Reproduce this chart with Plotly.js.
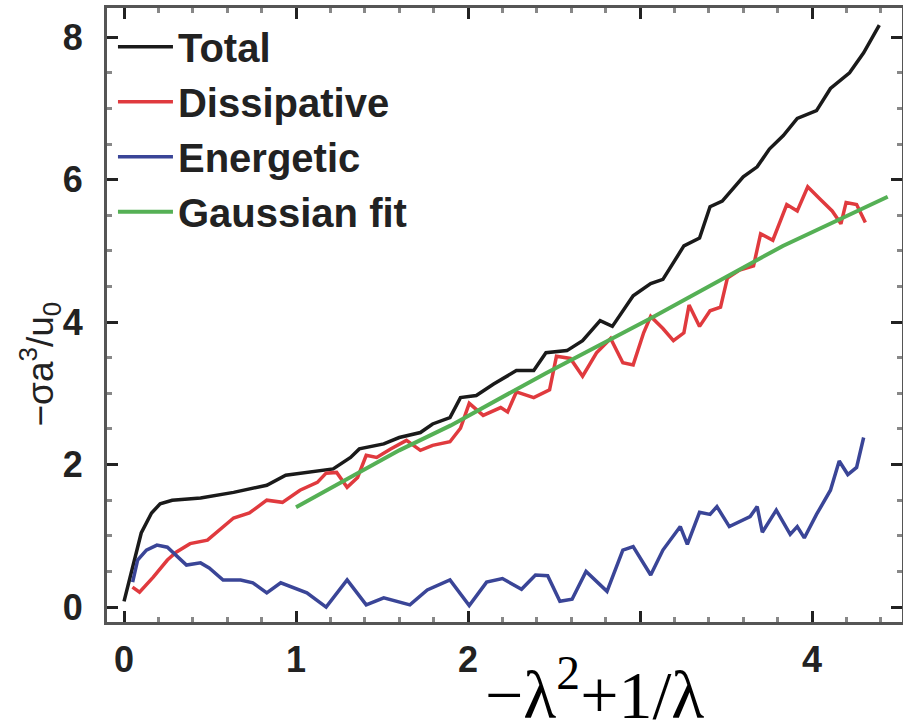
<!DOCTYPE html>
<html>
<head>
<meta charset="utf-8">
<script src="https://cdn.plot.ly/plotly-3.0.1.min.js"></script>
<style>html,body{margin:0;padding:0;background:#fff;}#chart{width:903px;height:723px;}</style>
</head>
<body>
<div id="chart"></div>
<script>
// Total
const totalX = [0.0,0.052,0.10,0.16,0.21,0.28,0.445,0.637,0.83,0.94,1.063,1.216,1.317,1.368,1.51,1.60,1.723,1.794,1.895,1.956,2.048,2.149,2.281,2.382,2.453,2.575,2.666,2.768,2.839,2.96,3.062,3.133,3.255,3.346,3.407,3.478,3.6,3.681,3.752,3.833,3.914,4.026,4.107,4.218,4.30,4.35,4.391];
const totalY = [0.08,0.56,1.04,1.32,1.45,1.5,1.53,1.61,1.71,1.85,1.89,1.94,2.1,2.22,2.29,2.38,2.45,2.57,2.66,2.94,2.97,3.13,3.32,3.32,3.57,3.6,3.74,4.02,3.94,4.37,4.54,4.6,5.07,5.18,5.62,5.7,6.04,6.18,6.43,6.62,6.86,6.97,7.28,7.5,7.78,8.0,8.17];
// Dissipative
const dissX = [0.049,0.09,0.17,0.252,0.303,0.384,0.485,0.536,0.637,0.729,0.83,0.921,1.023,1.124,1.175,1.236,1.297,1.358,1.408,1.469,1.55,1.642,1.723,1.794,1.895,1.956,2.007,2.088,2.19,2.23,2.281,2.382,2.474,2.514,2.595,2.666,2.747,2.829,2.9,2.96,3.021,3.062,3.133,3.194,3.255,3.285,3.346,3.407,3.468,3.508,3.579,3.66,3.701,3.772,3.853,3.914,3.975,4.046,4.117,4.168,4.198,4.259,4.31];
const dissY = [0.28,0.21,0.42,0.66,0.77,0.89,0.94,1.04,1.25,1.32,1.5,1.47,1.64,1.75,1.88,1.89,1.68,1.82,2.13,2.1,2.22,2.34,2.2,2.27,2.32,2.51,2.86,2.69,2.8,2.74,3.02,2.94,3.05,3.52,3.49,3.24,3.57,3.77,3.43,3.4,3.85,4.08,3.91,3.74,3.85,4.24,3.94,4.16,4.21,4.62,4.73,4.79,5.24,5.15,5.65,5.56,5.9,5.73,5.56,5.38,5.68,5.65,5.4];
// Energetic
const enerX = [0.05,0.079,0.13,0.191,0.252,0.303,0.363,0.445,0.495,0.576,0.678,0.749,0.83,0.911,0.982,1.063,1.175,1.297,1.408,1.51,1.662,1.763,1.895,2.007,2.108,2.2,2.311,2.392,2.463,2.534,2.605,2.686,2.808,2.9,2.96,3.062,3.133,3.234,3.275,3.346,3.407,3.447,3.519,3.64,3.681,3.711,3.792,3.873,3.914,3.955,4.026,4.107,4.158,4.208,4.259,4.3];
const enerY = [0.35,0.66,0.8,0.87,0.84,0.73,0.59,0.62,0.55,0.38,0.38,0.34,0.2,0.34,0.28,0.2,0.0,0.38,0.03,0.13,0.03,0.24,0.38,0.02,0.35,0.4,0.25,0.45,0.44,0.08,0.11,0.5,0.22,0.8,0.85,0.45,0.8,1.13,0.88,1.33,1.3,1.41,1.13,1.27,1.41,1.05,1.36,1.02,1.13,0.97,1.3,1.64,2.05,1.86,1.96,2.38];
// Gaussian fit
const fitX = [1.0,1.6,1.9,2.45,3.06,3.83,4.44];
const fitY = [1.40,2.2,2.55,3.28,4.05,5.07,5.76];

const xTicks = [0,1,2,3,4];
const yTicks = [0,2,4,6,8];

const sans = "Liberation Sans, Arial, sans-serif";

const traces = [
  {x: totalX, y: totalY, name: 'Total', mode: 'lines', line: {color: '#1a1a1a', width: 3.5}},
  {x: dissX, y: dissY, name: 'Dissipative', mode: 'lines', line: {color: '#e03a3e', width: 3.5}},
  {x: enerX, y: enerY, name: 'Energetic', mode: 'lines', line: {color: '#3a4597', width: 3.5}},
  {x: fitX, y: fitY, name: 'Gaussian fit', mode: 'lines', line: {color: '#55b055', width: 4}}
];

const axisCommon = {
  showline: true, linecolor: '#555', linewidth: 3, mirror: 'ticks',
  ticks: 'inside', ticklen: 11, tickwidth: 3, tickcolor: '#222',
  showgrid: false, zeroline: false,
  tickfont: {family: sans, size: 36, color: '#222', weight: 'bold'}
};

const layout = {
  width: 903, height: 723,
  margin: {l: 107, r: 1, t: 8, b: 101},
  paper_bgcolor: '#fff', plot_bgcolor: '#fff',
  showlegend: true,
  legend: {x: 0.0075, y: 0.99, xanchor: 'left', yanchor: 'top', bgcolor: 'rgba(0,0,0,0)',
           font: {family: sans, size: 40, color: '#222', weight: 'bold'}, itemwidth: 55},
  xaxis: Object.assign({}, axisCommon, {
    range: [-0.099, 4.523], tickvals: xTicks, ticktext: xTicks.map(String), ticklabelstandoff: 4,
    minor: {dtick: 0.2, ticks: 'inside', ticklen: 5, tickwidth: 3, tickcolor: '#888', showgrid: false}
  }),
  yaxis: Object.assign({}, axisCommon, {
    range: [-0.21, 8.41], tickvals: yTicks, ticktext: yTicks.map(String), ticklabelstandoff: 14,
    minor: {dtick: 0.5, ticks: 'inside', ticklen: 5, tickwidth: 3, tickcolor: '#888', showgrid: false}
  }),
  annotations: [
    {xref: 'paper', yref: 'paper', x: 0.6126, y: -0.038, xanchor: 'center', yanchor: 'top',
     text: '−λ<sup>2</sup>+1/λ', showarrow: false, bgcolor: '#fff',
     font: {family: 'Liberation Serif, Times New Roman, serif', size: 68, color: '#000'}},
    {xref: 'paper', yref: 'paper', x: -0.085, y: 0.42, xanchor: 'center', yanchor: 'middle',
     text: '−σa<sup>3</sup>/u<sub>0</sub>', showarrow: false, textangle: -90,
     font: {family: sans, size: 37, color: '#222'}}
  ]
};

Plotly.newPlot('chart', traces, layout, {displayModeBar: false, staticPlot: true});
</script>
</body>
</html>
